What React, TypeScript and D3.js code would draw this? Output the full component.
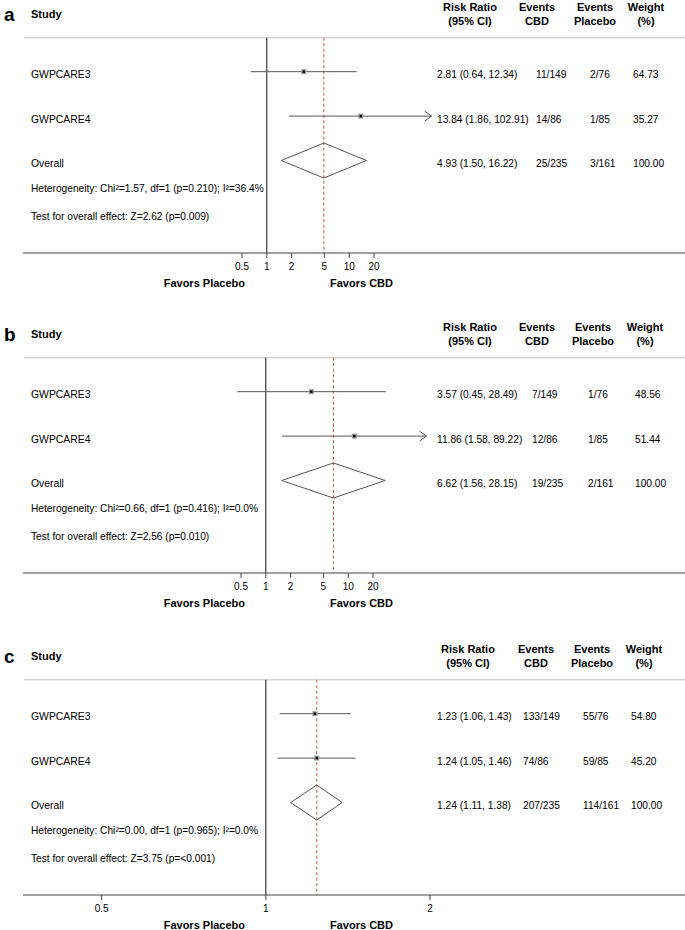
import React, { useRef, useEffect } from 'react';
import * as d3 from 'd3';

// study rows (last one is the pooled estimate)
const rowNames = ['GWPCARE3', 'GWPCARE4', 'Overall'];

// panel a
const estA = [2.81, 13.84, 4.93];
const lowA = [0.64, 1.86, 1.5];
const highA = [12.34, 102.91, 16.22];
const cbdA = ['11/149', '14/86', '25/235'];
const placeboA = ['2/76', '1/85', '3/161'];
const weightA = ['64.73', '35.27', '100.00'];
const hetA = 'Heterogeneity: Chi\u00b2=1.57, df=1 (p=0.210); I\u00b2=36.4%';
const testA = 'Test for overall effect: Z=2.62 (p=0.009)';

// panel b
const estB = [3.57, 11.86, 6.62];
const lowB = [0.45, 1.58, 1.56];
const highB = [28.49, 89.22, 28.15];
const cbdB = ['7/149', '12/86', '19/235'];
const placeboB = ['1/76', '1/85', '2/161'];
const weightB = ['48.56', '51.44', '100.00'];
const hetB = 'Heterogeneity: Chi\u00b2=0.66, df=1 (p=0.416); I\u00b2=0.0%';
const testB = 'Test for overall effect: Z=2.56 (p=0.010)';

// panel c
const estC = [1.23, 1.24, 1.24];
const lowC = [1.06, 1.05, 1.11];
const highC = [1.43, 1.46, 1.38];
const cbdC = ['133/149', '74/86', '207/235'];
const placeboC = ['55/76', '59/85', '114/161'];
const weightC = ['54.80', '45.20', '100.00'];
const hetC = 'Heterogeneity: Chi\u00b2=0.00, df=1 (p=0.965); I\u00b2=0.0%';
const testC = 'Test for overall effect: Z=3.75 (p=<0.001)';

const ticksAB = [0.5, 1, 2, 5, 10, 20];
const ticksC = [0.5, 1, 2];

const colHeads = [['Risk Ratio', '(95% CI)'], ['Events', 'CBD'], ['Events', 'Placebo'], ['Weight', '(%)']];

const W = 685;
const H = 930;
const FONT = 'Liberation Sans, Arial, Helvetica, sans-serif';
const CLIP_HI = 100;   // CI beyond this is cut with an arrow
const ARROW_ABOVE = 50;

const panels = [
  { label: 'a', top: 0, est: estA, low: lowA, high: highA, cbd: cbdA, placebo: placeboA, weight: weightA, het: hetA, test: testA,
    ticks: ticksAB, domain: [0.5, 20], range: [242, 374], cols: [437, 536, 590, 633], heads: [470, 537, 595, 646] },
  { label: 'b', top: 320, est: estB, low: lowB, high: highB, cbd: cbdB, placebo: placeboB, weight: weightB, het: hetB, test: testB,
    ticks: ticksAB, domain: [0.5, 20], range: [241, 373], cols: [437, 532, 588, 635], heads: [470, 537, 593, 645] },
  { label: 'c', top: 642, est: estC, low: lowC, high: highC, cbd: cbdC, placebo: placeboC, weight: weightC, het: hetC, test: testC,
    ticks: ticksC, domain: [0.5, 2], range: [101.7, 430], cols: [437, 523, 583, 631], heads: [468, 536, 592, 644] },
];

const App = () => {
  const ref = useRef(null);
  useEffect(() => {
    const svg = d3.select(ref.current);
    svg.selectAll('*').remove();

    const headY = 37.7;
    const axisY = 253;
    const y = d3.scalePoint().domain(rowNames).range([71.7, 160.5]);

    panels.forEach((p) => {
      const g = svg.append('g').attr('transform', `translate(0,${p.top})`).attr('font-family', FONT);
      const x = d3.scaleLog().domain(p.domain).range(p.range);

      g.append('text').attr('x', 4).attr('y', 21).attr('font-size', 19).attr('font-weight', 'bold').text(p.label);
      g.append('text').attr('x', 31).attr('y', 18).attr('font-size', 11).attr('font-weight', 'bold').text('Study');

      colHeads.forEach((h, i) => {
        h.forEach((line, j) => {
          g.append('text').attr('x', p.heads[i]).attr('y', 10.5 + j * 14).attr('text-anchor', 'middle')
            .attr('font-size', 11).attr('font-weight', 'bold').text(line);
        });
      });

      g.append('line').attr('x1', 24).attr('x2', W).attr('y1', headY).attr('y2', headY)
        .attr('stroke', '#d8d8d8').attr('stroke-width', 1.6);

      // null line and pooled estimate line
      g.append('line').attr('x1', x(1)).attr('x2', x(1)).attr('y1', headY).attr('y2', axisY).attr('stroke', '#111');
      const xo = x(p.est[2]);
      g.append('line').attr('x1', xo).attr('x2', xo).attr('y1', headY).attr('y2', axisY)
        .attr('stroke', '#c4553f').attr('stroke-dasharray', '3,2.5');

      rowNames.forEach((name, i) => {
        const ry = y(name);
        g.append('text').attr('x', 31).attr('y', ry + 6.5).attr('font-size', 10.4).text(name);
        const rr = `${p.est[i].toFixed(2)} (${p.low[i].toFixed(2)}, ${p.high[i].toFixed(2)})`;
        [rr, p.cbd[i], p.placebo[i], p.weight[i]].forEach((t, k) => {
          g.append('text').attr('x', p.cols[k]).attr('y', ry + 6.5).attr('font-size', 10.2).text(t);
        });

        if (i < 2) {
          const hi = Math.min(p.high[i], CLIP_HI);
          g.append('line').attr('x1', x(p.low[i])).attr('x2', x(hi)).attr('y1', ry).attr('y2', ry)
            .attr('stroke', '#555').attr('stroke-width', 1);
          if (p.high[i] > ARROW_ABOVE) {
            const tip = x(hi);
            g.append('path').attr('d', `M${tip - 7},${ry - 5}L${tip},${ry}L${tip - 7},${ry + 5}`)
              .attr('fill', 'none').attr('stroke', '#555');
          }
          const cx = x(p.est[i]);
          g.append('rect').attr('x', cx - 2.5).attr('y', ry - 2.5).attr('width', 5).attr('height', 5).attr('fill', '#999');
          g.append('rect').attr('x', cx - 1.2).attr('y', ry - 1.2).attr('width', 2.4).attr('height', 2.4).attr('fill', '#000');
        } else {
          const h = 17.5;
          g.append('path')
            .attr('d', `M${x(p.low[i])},${ry}L${x(p.est[i])},${ry - h}L${x(p.high[i])},${ry}L${x(p.est[i])},${ry + h}Z`)
            .attr('fill', 'none').attr('stroke', '#555').attr('stroke-width', 1);
        }
      });

      g.append('text').attr('x', 31).attr('y', 192).attr('font-size', 10.2).text(p.het);
      g.append('text').attr('x', 31).attr('y', 220).attr('font-size', 10.2).text(p.test);

      // x axis
      g.append('line').attr('x1', 23).attr('x2', W).attr('y1', axisY).attr('y2', axisY).attr('stroke', '#444');
      p.ticks.forEach((t) => {
        g.append('line').attr('x1', x(t)).attr('x2', x(t)).attr('y1', axisY).attr('y2', axisY + 5).attr('stroke', '#444');
        g.append('text').attr('x', x(t)).attr('y', axisY + 17).attr('text-anchor', 'middle').attr('font-size', 10).text(String(t));
      });
      g.append('text').attr('x', 245).attr('y', axisY + 34).attr('text-anchor', 'end')
        .attr('font-size', 11).attr('font-weight', 'bold').text('Favors Placebo');
      g.append('text').attr('x', 330).attr('y', axisY + 34)
        .attr('font-size', 11).attr('font-weight', 'bold').text('Favors CBD');
    });
  }, []);

  return (
    <svg ref={ref} width={W} height={H} style={{ position: 'absolute', left: 0, top: 0, background: '#fff' }} />
  );
};

export default App;
